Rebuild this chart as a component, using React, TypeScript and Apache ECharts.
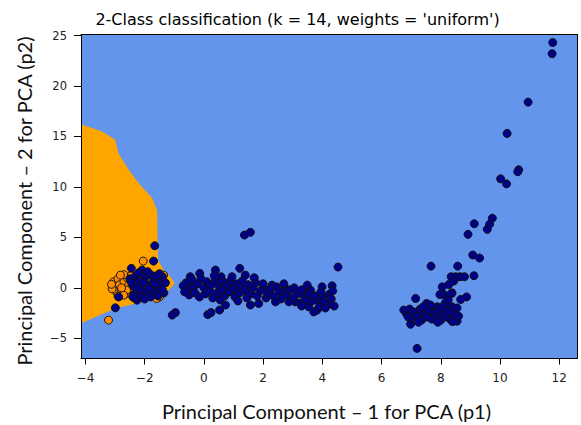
import React, { useEffect, useRef } from "react";
import * as echarts from "echarts";

const xTicks = [-4, -2, 0, 2, 4, 6, 8, 10, 12];
const yTicks = [-5, 0, 5, 10, 15, 20, 25];

// decision region of class 0 (orange), boundary in data coordinates
const orangeRegion: number[][] = [
  [-4.15, 16.2], [-3.44, 15.5], [-3.0, 14.7], [-2.88, 13.3], [-2.54, 11.7],
  [-2.15, 10.2], [-1.75, 8.9], [-1.58, 7.7], [-1.55, 2.75], [-1.36, 1.76],
  [-1.13, 1.1], [-0.99, 0.44], [-1.19, -0.23], [-1.53, -0.9], [-2.09, -1.39],
  [-2.99, -2.05], [-4.15, -3.5],
];

const orangePoints: number[][] = [
  [-2.05, 2.65], [-1.36, 1.26], [-3.22, -3.2],
  [-3.05, 0.6], [-3.0, 0.1], [-2.95, -0.4], [-2.9, 0.9], [-2.85, 0.3],
  [-2.8, -0.2], [-2.75, 1.2], [-2.7, 0.6], [-2.65, -0.6], [-2.6, 1.0],
  [-2.55, 0.2], [-3.1, -0.1], [-2.9, -0.8], [-2.7, 1.3], [-2.45, 1.25],
  [-2.35, -1.0], [-1.5, -0.9], [-1.6, -1.05], [-2.82, 1.26], [-2.6, -0.2],
  [-2.71, -0.73], [-3.12, 0.35], [-2.78, 0.0],
];

const bluePointsLeft: number[][] = [
  [-1.66, 4.17], [-1.7, 2.65], [-2.45, 1.93], [-2.09, 1.76], [-2.88, -0.9],
  [-2.99, -1.98], [-2.26, -1.22],
  [-2.5, 0.9], [-2.4, 0.2], [-2.3, 1.2], [-2.2, 0.6], [-2.1, -0.2],
  [-2.0, 1.0], [-1.9, 0.3], [-1.8, 1.3], [-1.7, 0.7], [-1.6, -0.1], [-1.5, 0.9],
  [-1.45, 0.2], [-1.4, 1.1], [-1.35, -0.5], [-2.35, -0.6],
  [-2.15, -0.9], [-1.95, -0.6], [-1.75, -0.4], [-1.55, -0.8], [-2.45, 0.55],
  [-2.25, 0.0], [-2.05, 0.5], [-1.85, -0.1], [-1.65, 0.4], [-1.5, 1.4],
  [-1.9, 1.6], [-2.2, 1.5], [-1.6, 1.2],
  [-1.3, 0.5], [-1.4, -0.2], [-1.8, -0.9], [-2.0, -1.1], [-2.4, -0.9],
];

const bluePointsMiddle: number[][] = [
  [1.37, 5.23], [1.57, 5.5], [0.39, 1.76], [1.21, 1.93], [1.4, 1.26],
  [-0.46, 1.1], [-0.14, 1.43], [0.58, 1.1], [-0.96, -2.45], [-1.07, -2.7],
  [0.13, -2.65], [0.24, -2.45], [0.53, -2.2], [0.73, -1.7], [1.57, -1.7],
  [4.53, 2.06], [3.49, 0.27], [4.33, 0.2], [3.99, 0.1], [2.3, 0.27],
  [2.02, -0.06], [2.75, -0.06], [3.37, -0.73], [3.6, -0.23], [4.22, -0.66],
  [3.82, -2.21], [4.16, -1.72], [3.88, -1.39], [3.09, -1.39], [2.87, -1.39],
  [2.42, -1.39], [1.85, -1.55], [3.54, -1.88], [3.71, -2.38],
  [-0.6, 0.5], [-0.55, -0.2], [-0.5, -0.7], [-0.4, 0.8], [-0.35, 0.1],
  [-0.3, -0.5], [-0.2, 0.4], [-0.15, -0.9], [-0.1, 0.9], [0.0, 0.0],
  [0.05, -0.6], [0.1, 0.6], [0.2, -0.3], [0.25, 0.3], [0.3, -1.0],
  [0.4, 0.8], [0.45, -0.5], [0.5, 0.2], [0.6, -0.2], [0.65, 0.6],
  [0.7, -0.8], [0.8, 0.3], [0.85, -0.4], [0.9, 0.7], [1.0, -0.1],
  [1.05, -0.9], [1.1, 0.4], [1.2, -0.5], [1.25, 0.1], [1.3, 0.7],
  [1.4, -0.3], [1.45, -1.0], [1.5, 0.3], [1.6, -0.6], [1.65, 0.0],
  [1.75, 0.5], [1.8, -0.8], [1.9, -0.3], [2.0, 0.4], [2.1, -1.0],
  [2.15, -0.5], [2.25, -0.1], [2.35, -0.8], [2.45, 0.1], [2.55, -0.4],
  [2.6, -1.1], [2.7, 0.4], [2.8, -0.7], [2.9, -0.2], [3.0, -1.0],
  [3.05, 0.0], [3.15, -0.6], [3.25, -1.5], [3.3, -0.2], [3.45, -1.2],
  [3.55, -0.6], [3.65, -1.3], [3.75, -0.8], [3.9, -1.9], [4.0, -0.9],
  [4.05, -1.4], [4.1, -2.0], [4.3, -1.1], [4.35, -0.3], [4.4, -1.8],
  [3.95, -0.4], [3.3, -1.8], [-0.7, 0.2], [-0.65, -0.4], [0.35, 1.2],
  [0.95, 1.1], [1.7, 1.0], [1.15, -1.3], [0.55, -1.2],
];

const bluePointsRight: number[][] = [
  [11.78, 24.3], [11.76, 23.2], [10.95, 18.4], [10.24, 15.3], [10.63, 11.7],
  [10.6, 11.5], [10.02, 10.8], [10.22, 10.3], [9.74, 6.9], [9.65, 6.3],
  [9.57, 5.8], [9.13, 6.35], [8.92, 5.3], [9.08, 3.25], [9.31, 2.95],
  [7.67, 2.15], [8.57, 2.15], [9.12, 1.2], [8.35, 1.1], [8.5, 1.1],
  [8.65, 1.1], [8.8, 1.1], [8.44, 0.67], [8.27, 0.33], [8.05, 0.1],
  [8.1, -0.66], [8.38, -0.5], [8.87, -0.9], [8.67, -1.15], [7.15, -1.05],
  [7.52, -1.55], [7.88, -1.88], [8.38, -1.88], [8.55, -2.0], [6.98, -3.6],
  [7.2, -6.0], [7.97, -0.66], [8.36, -0.56],
  [6.75, -2.2], [6.85, -2.6], [6.95, -2.1], [7.0, -3.0], [7.1, -2.4],
  [7.2, -2.8], [7.3, -2.1], [7.35, -3.2], [7.45, -2.5], [7.55, -2.9],
  [7.6, -2.2], [7.7, -3.1], [7.8, -2.5], [7.85, -2.9], [7.95, -2.2],
  [8.0, -3.2], [8.1, -2.6], [8.2, -2.9], [8.25, -2.3], [8.35, -3.2],
  [8.45, -2.6], [8.55, -3.3], [8.6, -2.8], [7.4, -1.9], [7.65, -1.7],
  [8.05, -1.9], [8.15, -1.5], [8.25, -1.2], [6.9, -2.9], [7.25, -3.4],
  [7.9, -3.4], [8.4, -3.35],
];

const bluePoints = [...bluePointsLeft, ...bluePointsMiddle, ...bluePointsRight];

const titleText = "2-Class classification (k = 14, weights = 'uniform')";
const xName = "Principal Component \u2013 1 for PCA (p1)";
const yName = "Principal Component \u2013 2 for PCA (p2)";

const fmt = (v: number) => String(v).replace("-", "\u2212");

export default function App() {
  const ref = useRef<HTMLDivElement>(null);
  useEffect(() => {
    if (!ref.current) return;
    const chart = echarts.init(ref.current, null, { renderer: "svg" });
    const tickLabelX = { fontFamily: "DejaVu Sans", fontSize: 12, color: "#222" };
    const tickLabelY = { fontFamily: "DejaVu Sans", fontSize: 11.5, color: "#222" };
    chart.setOption({
      animation: false,
      grid: {
        left: 81, right: 4, top: 34.5, bottom: 66.5,
        show: true, backgroundColor: "#6495ED", borderWidth: 0,
      },
      xAxis: [
        {
          type: "value", min: -4.15, max: 12.6, z: 10,
          splitLine: { show: false },
          axisLine: { show: true, onZero: false, lineStyle: { color: "#000", width: 1 } },
          axisTick: { show: true, length: 6, customValues: xTicks, lineStyle: { color: "#000" } },
          axisLabel: { customValues: xTicks, margin: 13, formatter: fmt, ...tickLabelX },
        },
        {
          type: "value", position: "top", min: -4.15, max: 12.6, z: 10,
          splitLine: { show: false },
          axisLine: { show: true, onZero: false, lineStyle: { color: "#000", width: 1 } },
          axisTick: { show: false }, axisLabel: { show: false },
        },
      ],
      yAxis: [
        {
          type: "value", min: -7.0, max: 25.1, z: 10,
          splitLine: { show: false },
          axisLine: { show: true, onZero: false, lineStyle: { color: "#000", width: 1 } },
          axisTick: { show: true, length: 7, customValues: yTicks, lineStyle: { color: "#000" } },
          axisLabel: { customValues: yTicks, margin: 14, formatter: fmt, ...tickLabelY },
        },
        {
          type: "value", position: "right", min: -7.0, max: 25.1, z: 10,
          splitLine: { show: false },
          axisLine: { show: true, onZero: false, lineStyle: { color: "#000", width: 1 } },
          axisTick: { show: false }, axisLabel: { show: false },
        },
      ],
      graphic: [
        {
          type: "text", x: 297.5, y: 19,
          style: { text: titleText, fontFamily: "DejaVu Sans", fontSize: 16, fill: "#000", align: "center", verticalAlign: "middle" },
        },
        {
          type: "text", x: 326.5, y: 411,
          style: { text: xName, fontFamily: "Lato", fontSize: 20, fill: "#111", align: "center", verticalAlign: "middle" },
        },
        {
          type: "text", x: 24, y: 201, rotation: Math.PI / 2,
          style: { text: yName, fontFamily: "Lato", fontSize: 20, fill: "#111", align: "center", verticalAlign: "middle" },
        },
      ],
      series: [
        {
          type: "custom",
          xAxisIndex: 0, yAxisIndex: 0,
          clip: true, silent: true, z: 1,
          data: [orangeRegion[0]],
          renderItem: (_params: any, api: any) => {
            const pts = orangeRegion.map((p) => api.coord(p));
            return { type: "polygon", shape: { points: pts }, style: { fill: "#FFA500" } };
          },
        },
        {
          type: "scatter", xAxisIndex: 0, yAxisIndex: 0, z: 3,
          symbolSize: 8, data: orangePoints,
          itemStyle: { color: "#FF8C00", borderColor: "#1a1a1a", borderWidth: 1, opacity: 1 },
        },
        {
          type: "scatter", xAxisIndex: 0, yAxisIndex: 0, z: 4,
          symbolSize: 8, data: bluePoints,
          itemStyle: { color: "#00008B", borderColor: "#111", borderWidth: 1, opacity: 1 },
        },
      ],
    });
    return () => chart.dispose();
  }, []);
  return <div ref={ref} style={{ width: 581, height: 425, position: "absolute", left: 0, top: 0 }} />;
}
